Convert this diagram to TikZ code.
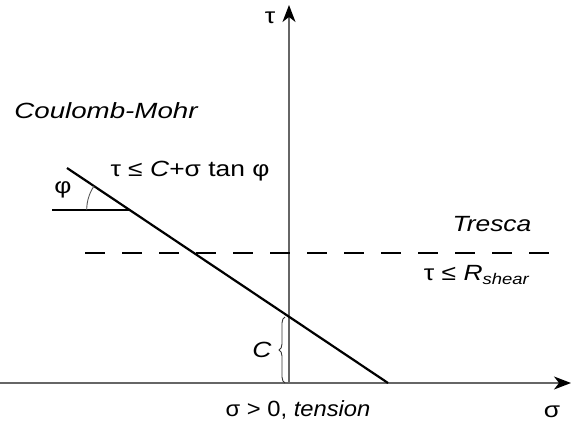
\documentclass[tikz,border=0pt]{standalone}
\usepackage{fontspec}
\setmainfont{Liberation Sans}
\usetikzlibrary{arrows.meta,decorations.pathreplacing,calc}
\begin{document}
\begin{tikzpicture}[x=1pt,y=-1pt,
  axis/.style={draw=gray!80!black,line width=1.3pt},
  tip/.style={-{Stealth[length=17pt,width=13pt,inset=5pt,color=black]}},
  lbl/.style={font=\fontsize{22}{24}\selectfont,inner sep=0pt,xscale=1.2},
  ilbl/.style={lbl,font=\fontsize{22}{24}\selectfont\itshape},
  mohr/.style={line width=2.2pt,black},
  tres/.style={line width=2pt,dash pattern=on 20pt off 17pt}]
\useasboundingbox (0,0) rectangle (573,433);
\coordinate (O) at (289,383);
\coordinate (Ttop) at (289,5);
\coordinate (Xl) at (0,383);
\coordinate (Xr) at (571,383);
\draw[axis,tip] (O) -- (Ttop);
\draw[axis,tip] (Xl) -- (Xr);
% Coulomb line
\coordinate (A) at (67,168);
\coordinate (B) at (388,383);
\coordinate (P) at (129.7,210);
\coordinate (H) at (52,210);
\draw[mohr] (A) -- (B);
\draw[line width=1.5pt] (H) -- (P);
\draw[gray!70!black,line width=0.9pt] ($(P)+(-43,0)$) arc[start angle=180,end angle=213.8,radius=43];
% Tresca
\coordinate (D1) at (85,253);
\coordinate (D2) at (558,253);
\draw[tres] (D1) -- (D2);
% brace
\coordinate (Bb) at (285,383);
\coordinate (Bt) at (285,317);
\draw[decorate,decoration={brace,amplitude=6pt},line width=0.9pt,gray!40!black] (Bb) -- (Bt);
% labels
\node[lbl] (tau) at (270,18) {τ};
\node[lbl] (sig) at (552,412) {σ};
\node[ilbl,xscale=1.05] (cm) at (106,111) {Coulomb-Mohr};
\node[lbl] (phi) at (63,190) {φ};
\node[lbl] (crit) at (190,171) {τ ≤ \textit{C}+σ tan φ};
\node[ilbl] (tr) at (492,224) {Tresca};
\node[lbl] (rs) at (477,275) {τ ≤ \textit{R}\textsubscript{\textit{shear}}};
\node[lbl] (cl) at (262,350) {\textit{C}};
\node[lbl,xscale=0.9] (ten) at (298,410) {σ > 0, \textit{tension}};
\end{tikzpicture}
\end{document}
